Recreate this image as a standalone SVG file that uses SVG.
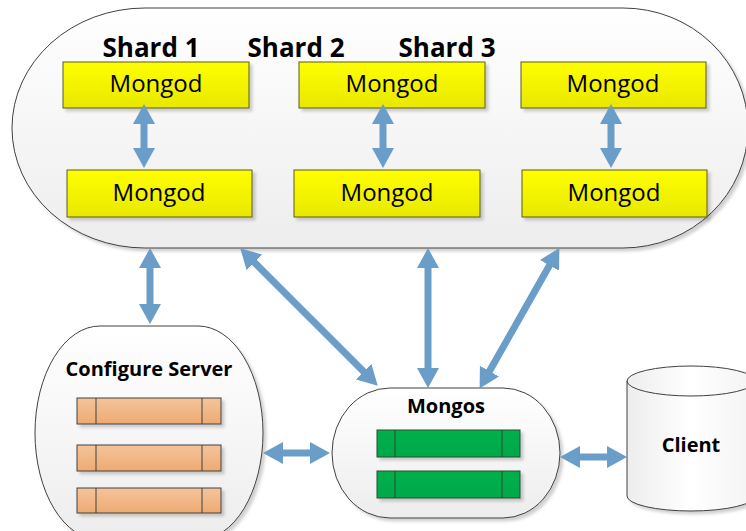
<svg xmlns="http://www.w3.org/2000/svg" width="746" height="531" viewBox="0 0 746 531">
<style>
.shape{stroke:#404040;stroke-width:1}
.bold{font-family:"Open Sans","Liberation Sans",sans-serif;font-weight:bold;fill:#000;text-anchor:middle}
.reg{font-family:"Open Sans","Liberation Sans",sans-serif;fill:#000;text-anchor:middle}
.mongod{fill:url(#gYellow);stroke:#5a5a20;stroke-width:1}
.orange{fill:url(#gOrange);stroke:#404040;stroke-width:1}
.green{fill:url(#gGreen);stroke:#2a4a30;stroke-width:1}
.arrow{stroke:#6b9dc9;stroke-width:7;fill:none;marker-start:url(#ah);marker-end:url(#ah)}
</style>
<defs>
<linearGradient id="gGray" x1="0" y1="0" x2="0" y2="1"><stop offset="0" stop-color="#ffffff"/><stop offset="1" stop-color="#ededed"/></linearGradient>
<linearGradient id="gGrayH" x1="0" y1="0" x2="1" y2="0"><stop offset="0" stop-color="#ededed"/><stop offset="0.5" stop-color="#ffffff"/><stop offset="1" stop-color="#f3f3f3"/></linearGradient>
<linearGradient id="gYellow" x1="0" y1="0" x2="0" y2="1"><stop offset="0" stop-color="#ffff00"/><stop offset="1" stop-color="#e8e800"/></linearGradient>
<linearGradient id="gOrange" x1="0" y1="0" x2="0" y2="1"><stop offset="0" stop-color="#f4c49c"/><stop offset="1" stop-color="#eeaa72"/></linearGradient>
<linearGradient id="gGreen" x1="0" y1="0" x2="0" y2="1"><stop offset="0" stop-color="#00b04c"/><stop offset="1" stop-color="#00a84a"/></linearGradient>
<filter id="sh" x="-10%" y="-10%" width="130%" height="130%"><feDropShadow dx="3" dy="3" stdDeviation="1.5" flood-color="#000" flood-opacity="0.18"/></filter>
<marker id="ah" viewBox="0 0 20 22" markerWidth="20" markerHeight="22" refX="1" refY="11" orient="auto-start-reverse" markerUnits="userSpaceOnUse"><path d="M0,0 L20,11 L0,22 Z" fill="#6b9dc9"/></marker>
</defs>

<g id="cluster">
<path class="shape" fill="url(#gGray)" filter="url(#sh)" d="M145,8 H623 A125,120 0 0 1 623,248 H145 A133,120 0 0 1 145,8 Z"/>
<text class="bold" x="151" y="57" font-size="26">Shard 1</text>
<text class="bold" x="296" y="57" font-size="26">Shard 2</text>
<text class="bold" x="447" y="57" font-size="26">Shard 3</text>
</g>

<g id="mongod-1a"><rect class="mongod" filter="url(#sh)" x="63" y="62" width="186" height="46"/><text class="reg" x="156" y="92" font-size="24">Mongod</text></g>
<g id="mongod-2a"><rect class="mongod" filter="url(#sh)" x="299" y="62" width="186" height="46"/><text class="reg" x="392" y="92" font-size="24">Mongod</text></g>
<g id="mongod-3a"><rect class="mongod" filter="url(#sh)" x="521" y="62" width="185" height="46"/><text class="reg" x="613" y="92" font-size="24">Mongod</text></g>
<g id="mongod-1b"><rect class="mongod" filter="url(#sh)" x="67" y="170" width="185" height="47"/><text class="reg" x="159" y="201" font-size="24">Mongod</text></g>
<g id="mongod-2b"><rect class="mongod" filter="url(#sh)" x="294" y="170" width="186" height="47"/><text class="reg" x="387" y="201" font-size="24">Mongod</text></g>
<g id="mongod-3b"><rect class="mongod" filter="url(#sh)" x="522" y="170" width="185" height="47"/><text class="reg" x="614" y="201" font-size="24">Mongod</text></g>

<g id="config-server">
<rect class="shape" fill="url(#gGray)" filter="url(#sh)" x="35" y="326" width="228" height="214" rx="65" ry="107"/>
<text class="bold" x="149" y="376" font-size="20">Configure Server</text>
<g filter="url(#sh)">
<rect class="orange" x="77" y="398" width="144" height="26"/><line class="orange" x1="96" y1="398" x2="96" y2="424"/><line class="orange" x1="202" y1="398" x2="202" y2="424"/>
<rect class="orange" x="77" y="445" width="144" height="26"/><line class="orange" x1="96" y1="445" x2="96" y2="471"/><line class="orange" x1="202" y1="445" x2="202" y2="471"/>
<rect class="orange" x="77" y="488" width="144" height="25"/><line class="orange" x1="96" y1="488" x2="96" y2="513"/><line class="orange" x1="202" y1="488" x2="202" y2="513"/>
</g>
</g>

<g id="mongos">
<path class="shape" fill="url(#gGray)" filter="url(#sh)" d="M390,388 H503 A57,65 0 0 1 503,518 H390 A58,65 0 0 1 390,388 Z"/>
<text class="bold" x="446" y="413" font-size="20">Mongos</text>
<g filter="url(#sh)">
<rect class="green" x="377" y="430" width="143" height="27"/><line class="green" x1="395" y1="430" x2="395" y2="457"/><line class="green" x1="502" y1="430" x2="502" y2="457"/>
<rect class="green" x="377" y="471" width="143" height="27"/><line class="green" x1="395" y1="471" x2="395" y2="498"/><line class="green" x1="502" y1="471" x2="502" y2="498"/>
</g>
</g>

<g id="client">
<path class="shape" fill="url(#gGrayH)" filter="url(#sh)" d="M627,381 A64,15 0 0 1 755,381 V496 A64,15 0 0 1 627,496 Z"/>
<path class="shape" fill="none" d="M627,381 A64,15 0 0 0 755,381"/>
<text class="bold" x="691" y="452" font-size="20">Client</text>
</g>

<g id="connectors">
<line class="arrow" x1="144" y1="123" x2="144" y2="149"/>
<line class="arrow" x1="383" y1="123" x2="383" y2="149"/>
<line class="arrow" x1="611" y1="123" x2="611" y2="149"/>
<line class="arrow" x1="150" y1="267" x2="150" y2="305"/>
<line class="arrow" x1="253.7" y1="261.7" x2="364.3" y2="372.3"/>
<line class="arrow" x1="428" y1="267" x2="428" y2="369"/>
<line class="arrow" x1="550" y1="264.5" x2="489" y2="372"/>
<line class="arrow" x1="282" y1="453" x2="311" y2="453"/>
<line class="arrow" x1="579" y1="457" x2="608" y2="457"/>
</g>
</svg>
